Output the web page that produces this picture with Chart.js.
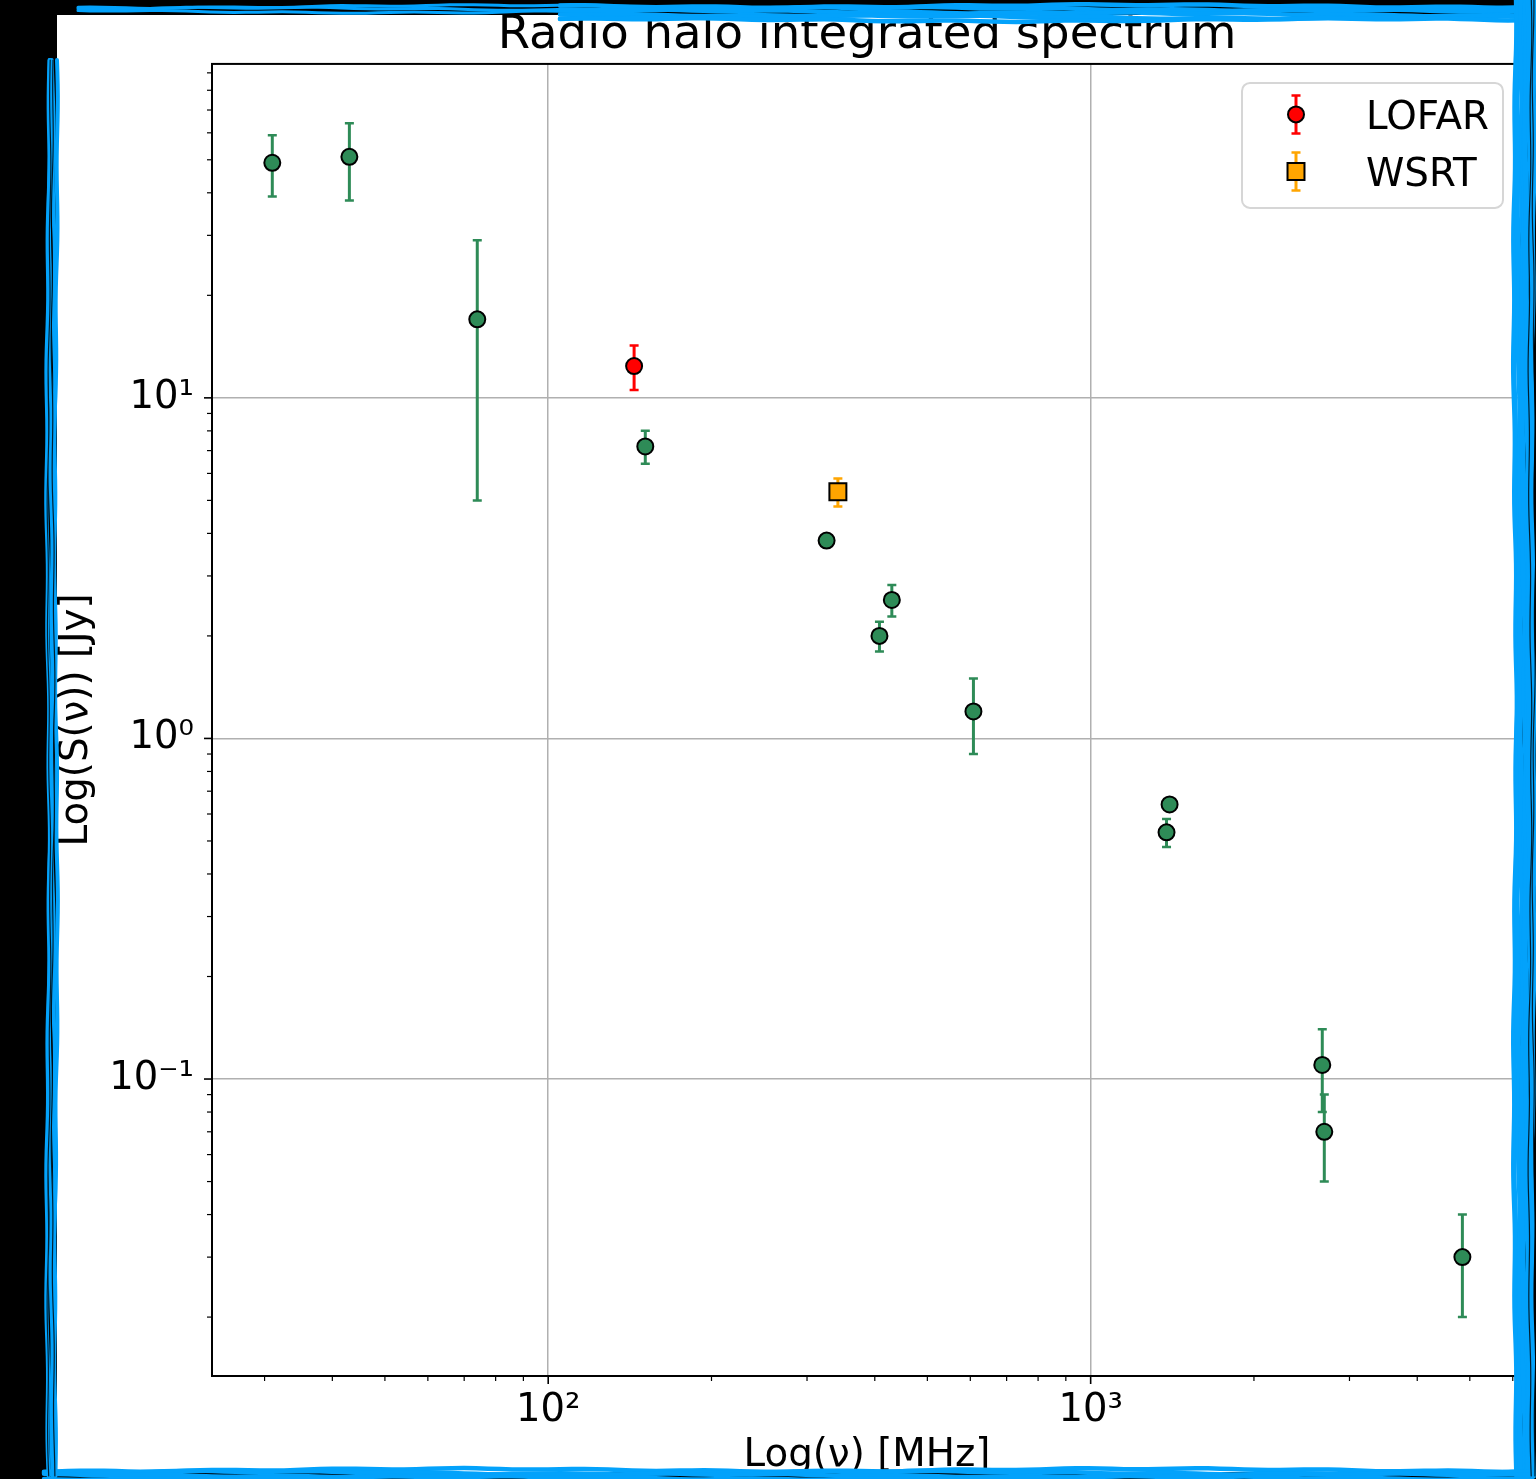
<!DOCTYPE html>
<html><head><meta charset="utf-8">
<script src="https://cdn.jsdelivr.net/npm/chart.js@4.4.1/dist/chart.umd.min.js"></script>
<style>html,body{margin:0;padding:0;background:#000;} canvas{display:block;}</style>
</head><body>
<canvas id="c" width="1536" height="1479"></canvas>
<script>
// ---------- chart data ----------
const titleText = 'Radio halo integrated spectrum';
const xAxisLabel = 'Log(\u03bd) [MHz]';
const yAxisLabel = 'Log(S(\u03bd)) [Jy]';
const xRange = [24, 6240];
const yRange = [0.01343, 95.6];
const xTickValues = [100, 1000];
const xTickLabels = ['10\u00b2', '10\u00b3'];
const yTickValues = [0.1, 1, 10];
const yTickLabels = ['10\u207b\u00b9', '10\u2070', '10\u00b9'];

// literature points (green)
const otherFreq = [31, 43, 74, 151, 326, 408, 430, 608, 1380, 1398, 2673, 2696, 4845];
const otherFlux = [49, 51, 17, 7.2, 3.81, 2.0, 2.55, 1.2, 0.53, 0.64, 0.11, 0.07, 0.03];
const otherErr  = [10, 13, 12, 0.8, 0, 0.2, 0.27, 0.3, 0.05, 0, 0.03, 0.02, 0.01];
// LOFAR
const lofarFreq = [144];
const lofarFlux = [12.4];
const lofarErr  = [1.85];
// WSRT
const wsrtFreq = [342];
const wsrtFlux = [5.3];
const wsrtErr  = [0.5];

const seriesLabels = ['other', 'LOFAR', 'WSRT'];

function pts(fx, fy, fe) { return fx.map((x, i) => ({x: x, y: fy[i], err: fe[i]})); }
function matchIdx(vals, v) { return vals.findIndex(t => Math.abs(t - v) / t < 1e-6); }

const FONT = "'DejaVu Sans', 'Liberation Sans', sans-serif";
Chart.defaults.font.family = FONT;
Chart.defaults.color = '#000';

// ---------- plugins ----------
const bgPlugin = {
  id: 'bg',
  beforeDraw(chart) {
    const ctx = chart.ctx;
    ctx.save();
    ctx.fillStyle = '#000';
    ctx.fillRect(0, 0, chart.width, chart.height);
    ctx.fillStyle = '#fff';
    ctx.fillRect(57, 15, 1463, 1457);
    ctx.restore();
  }
};

const errorBarPlugin = {
  id: 'errorBars',
  beforeDatasetsDraw(chart) {
    const ctx = chart.ctx, xs = chart.scales.x, ys = chart.scales.y;
    ctx.save();
    chart.data.datasets.forEach(ds => {
      ctx.strokeStyle = ds.errorColor;
      ds.data.forEach(p => {
        if (!p.err) return;
        const px = xs.getPixelForValue(p.x);
        const yt = ys.getPixelForValue(p.y + p.err);
        const yb = ys.getPixelForValue(p.y - p.err);
        ctx.lineWidth = 3;
        ctx.beginPath(); ctx.moveTo(px, yt); ctx.lineTo(px, yb); ctx.stroke();
        ctx.lineWidth = 2.5;
        ctx.beginPath();
        ctx.moveTo(px - 4.5, yt); ctx.lineTo(px + 4.5, yt);
        ctx.moveTo(px - 4.5, yb); ctx.lineTo(px + 4.5, yb);
        ctx.stroke();
      });
    });
    ctx.restore();
  }
};

const axesPlugin = {
  id: 'mplAxes',
  afterDatasetsDraw(chart) {
    const ctx = chart.ctx, xs = chart.scales.x, ys = chart.scales.y, a = chart.chartArea;
    ctx.save();
    ctx.strokeStyle = '#000';
    ctx.lineWidth = 2;
    ctx.strokeRect(a.left, a.top, a.right - a.left, a.bottom - a.top);
    const drawTicks = (scale, horiz) => {
      const lo = Math.floor(Math.log10(scale.min)), hi = Math.ceil(Math.log10(scale.max));
      for (let e = lo; e <= hi; e++) {
        for (let m = 1; m <= 9; m++) {
          const v = m * Math.pow(10, e);
          if (v < scale.min || v > scale.max) continue;
          const p = scale.getPixelForValue(v);
          const len = m === 1 ? 8 : 5;
          ctx.lineWidth = m === 1 ? 1.6 : 1.2;
          ctx.beginPath();
          if (horiz) { ctx.moveTo(p, a.bottom); ctx.lineTo(p, a.bottom + len); }
          else { ctx.moveTo(a.left, p); ctx.lineTo(a.left - len, p); }
          ctx.stroke();
        }
      }
    };
    drawTicks(xs, true);
    drawTicks(ys, false);
    ctx.restore();
  }
};

function drawMarker(ctx, style, x, y, r, fill) {
  ctx.beginPath();
  if (style === 'rect') {
    const s = Math.SQRT1_2 * r;
    ctx.rect(x - s, y - s, 2 * s, 2 * s);
  } else {
    ctx.arc(x, y, r, 0, Math.PI * 2);
  }
  ctx.fillStyle = fill; ctx.fill();
  ctx.lineWidth = 2; ctx.strokeStyle = '#000'; ctx.stroke();
}

const legendPlugin = {
  id: 'mplLegend',
  afterDraw(chart) {
    const ctx = chart.ctx, a = chart.chartArea;
    const entries = chart.data.datasets.filter(d => d.inLegend);
    const bx = a.right - 280, by = a.top + 19, bw = 261, bh = 125;
    ctx.save();
    ctx.beginPath();
    ctx.roundRect(bx, by, bw, bh, 8);
    ctx.fillStyle = 'rgba(255,255,255,0.8)'; ctx.fill();
    ctx.strokeStyle = '#d6d6d6'; ctx.lineWidth = 2; ctx.stroke();
    entries.forEach((ds, i) => {
      const cy = by + 31.5 + i * 57;
      const mx = bx + 54;
      ctx.strokeStyle = ds.errorColor;
      ctx.lineWidth = 3;
      ctx.beginPath(); ctx.moveTo(mx, cy - 19); ctx.lineTo(mx, cy + 19); ctx.stroke();
      ctx.lineWidth = 2.5;
      ctx.beginPath();
      ctx.moveTo(mx - 4.5, cy - 19); ctx.lineTo(mx + 4.5, cy - 19);
      ctx.moveTo(mx - 4.5, cy + 19); ctx.lineTo(mx + 4.5, cy + 19);
      ctx.stroke();
      drawMarker(ctx, ds.pointStyle, mx, cy, ds.pointRadius, ds.backgroundColor);
      ctx.fillStyle = '#000';
      ctx.font = '38.8px ' + FONT;
      ctx.textBaseline = 'alphabetic';
      ctx.textAlign = 'left';
      ctx.fillText(ds.label, bx + 124, cy + 14.5);
    });
    ctx.restore();
  }
};

const framePlugin = {
  id: 'frame',
  afterDraw(chart) {
    const ctx = chart.ctx;
    ctx.save();
    ctx.lineCap = 'round';
    const blue = '#03a2fb';
    const hBand = (x0, x1, yc, w, n, ph) => {
      for (let i = 0; i < n; i++) {
        const off = (n === 1 ? 0 : (i / (n - 1) - 0.5)) * w;
        ctx.beginPath();
        for (let x = x0; x <= x1; x += 12) {
          const y = yc + off + 1.3 * Math.sin(x * 0.009 + i * 2.1 + ph) + 0.6 * Math.sin(x * 0.051 + i * 1.3);
          if (x === x0) ctx.moveTo(x, y); else ctx.lineTo(x, y);
        }
        ctx.stroke();
      }
    };
    const vBand = (y0, y1, xc, w, n, ph) => {
      for (let i = 0; i < n; i++) {
        const off = (n === 1 ? 0 : (i / (n - 1) - 0.5)) * w;
        ctx.beginPath();
        for (let y = y0; y <= y1; y += 12) {
          const x = xc + off + 1.3 * Math.sin(y * 0.008 + i * 1.9 + ph) + 0.6 * Math.sin(y * 0.047 + i * 1.1);
          if (y === y0) ctx.moveTo(x, y); else ctx.lineTo(x, y);
        }
        ctx.stroke();
      }
    };
    ctx.strokeStyle = blue;
    ctx.lineWidth = 3;
    hBand(78, 700, 9, 5, 3, 0.3);
    ctx.lineWidth = 4.5;
    hBand(560, 1536, 13, 14, 6, 0.9);
    ctx.lineWidth = 4;
    vBand(60, 1479, 52, 8, 4, 1.1);
    ctx.lineWidth = 5.5;
    vBand(0, 1479, 1524, 17, 7, 2.2);
    ctx.lineWidth = 4.5;
    hBand(44, 1536, 1474, 8, 4, 0.7);
    ctx.strokeStyle = 'rgba(0,0,0,0.8)'; ctx.lineWidth = 1.2;
    vBand(60, 1479, 51, 4, 2, 0.4);
    vBand(0, 1479, 1532, 4, 2, 1.7);
    ctx.restore();
  }
};

// ---------- chart ----------
const datasets = [
  { label: seriesLabels[0], data: pts(otherFreq, otherFlux, otherErr), inLegend: false,
    backgroundColor: '#2e8b57', borderColor: '#000', errorColor: '#2e8b57',
    pointStyle: 'circle', pointRadius: 8, pointBorderWidth: 2 },
  { label: seriesLabels[1], data: pts(lofarFreq, lofarFlux, lofarErr), inLegend: true,
    backgroundColor: '#ff0000', borderColor: '#000', errorColor: '#ff0000',
    pointStyle: 'circle', pointRadius: 8, pointBorderWidth: 2 },
  { label: seriesLabels[2], data: pts(wsrtFreq, wsrtFlux, wsrtErr), inLegend: true,
    backgroundColor: '#ffa500', borderColor: '#000', errorColor: '#ffa500',
    pointStyle: 'rect', pointRadius: 12, pointBorderWidth: 2 }
];

new Chart(document.getElementById('c'), {
  type: 'scatter',
  data: { datasets },
  plugins: [bgPlugin, errorBarPlugin, axesPlugin, legendPlugin, framePlugin],
  options: {
    responsive: false,
    animation: false,
    events: [],
    layout: { padding: { top: 8, left: 0, right: 13, bottom: 0 } },
    plugins: {
      legend: { display: false },
      tooltip: { enabled: false },
      title: { display: true, text: titleText, fullSize: false, color: '#000',
               font: { size: 46.6, weight: 'normal', family: FONT }, padding: { top: 0, bottom: 0 } }
    },
    scales: {
      x: {
        type: 'logarithmic', position: 'bottom', min: xRange[0], max: xRange[1],
        border: { display: false },
        grid: { drawTicks: false, lineWidth: 1.5,
                color: c => (c.tick && matchIdx(xTickValues, c.tick.value) >= 0) ? '#b0b0b0' : 'rgba(0,0,0,0)' },
        ticks: { autoSkip: false, maxRotation: 0, minRotation: 0, padding: 12, color: '#000',
                 font: { size: 38.5, family: FONT },
                 callback: v => { const i = matchIdx(xTickValues, v); return i >= 0 ? xTickLabels[i] : ''; } },
        title: { display: true, text: xAxisLabel, color: '#000', font: { size: 38.8, family: FONT },
                 padding: { top: 0, bottom: 0 } },
        afterFit: s => { s.height = 103; }
      },
      y: {
        type: 'logarithmic', position: 'left', min: yRange[0], max: yRange[1],
        border: { display: false },
        grid: { drawTicks: false, lineWidth: 1.5,
                color: c => (c.tick && matchIdx(yTickValues, c.tick.value) >= 0) ? '#b0b0b0' : 'rgba(0,0,0,0)' },
        ticks: { autoSkip: false, padding: 18, color: '#000',
                 font: { size: 38.5, family: FONT },
                 callback: v => { const i = matchIdx(yTickValues, v); return i >= 0 ? yTickLabels[i] : ''; } },
        title: { display: true, text: yAxisLabel, color: '#000', font: { size: 38.8, family: FONT },
                 padding: { top: 54, bottom: 0 } },
        afterFit: s => { s.width = 212; }
      }
    }
  }
});
</script>
</body></html>
